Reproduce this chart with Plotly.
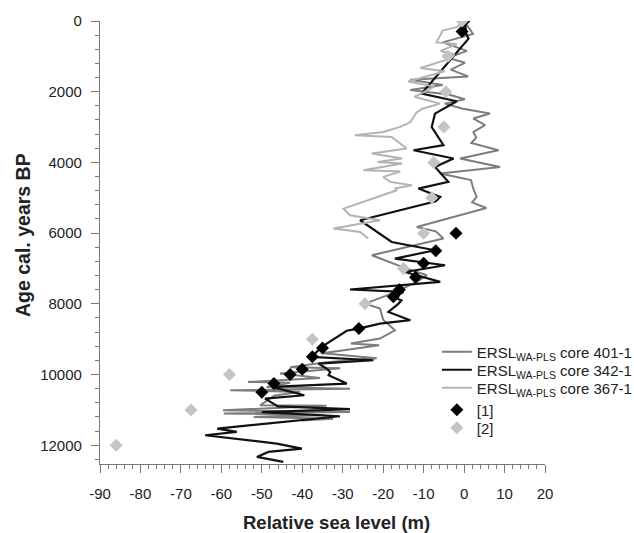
import plotly.graph_objects as go

# ---- data (age cal. years BP, relative sea level m) ----
core401_age = [0, 365, 605, 846, 1038, 1183, 1375, 1567, 1663, 1808, 1952, 2077, 2211, 2337, 2480,
               2617, 2758, 2948, 3137, 3300, 3450, 3655, 3890, 4127, 4314, 4500, 4750, 4975, 5130,
               5290, 5824, 5950, 6153, 6400, 6626, 7003, 7191, 7380, 7710, 7993, 8133, 8450, 8747,
               8982, 9120, 9170, 9400, 9540, 9650, 9790, 9822, 9970, 10100, 10210, 10230, 10350,
               10400, 10445, 10490, 10600, 10870, 10880, 11010, 11060, 11100, 11150, 11200, 11250, 11300]
core401_rsl = [0, 2.2, -5.3, 0.7, -4, 0.2, -3.3, 1, -13.3, -5.3, -13.3, -3.8, 0.2, -4.8, -0.3,
               6.4, 2.3, 5.2, 2.3, 3, 1.8, 8.5, -1, 8.9, -5.9, 1.7, 2.3, 3.1, 2,
               5.5, -11.7, -7, -5.1, -14, -22.8, -14.2, -9.2, -11.7, -17.9, -24.5, -20.8, -20, -17.1,
               -20.8, -28, -21, -35, -21.6, -34, -43, -30.6, -45.5, -35.6, -53.4, -43, -48.8,
               -28.2, -57.8, -40.5, -47, -50.4, -34, -59.6, -28.2, -59.4, -34.6, -52, -32.4, -40]

core342_age = [0, 350, 500, 2050, 2270, 2620, 3000, 3510, 3655, 3890, 4127, 4550, 4740, 4975, 5100,
               5635, 6250, 6484, 6720, 6908, 7100, 7380, 7595, 7663, 7805, 7900, 7993, 8229, 8463,
               8560, 8700, 8760, 9219, 9502, 9595, 9689, 9830, 9926, 10020, 10255, 10350, 10585,
               10680, 10900, 10980, 11060, 11180, 11528, 11622, 11716, 11952, 12093, 12188, 12330, 12471]
core342_rsl = [0.2, 0.5, 1.1, -10.5, -1.8, -7.2, -8, -5.1, -12.5, -2.6, -7.2, -3.9, -11.3, -5.9, -7,
               -25.7, -17.9, -7.2, -17.1, -4.7, -14.6, -5.9, -28.2, -15, -17.5, -15.5, -16.2, -18.7, -13.3,
               -20.8, -26.1, -29, -35.2, -37.7, -22.4, -36, -34, -33.1, -33.5, -29, -47.5, -39.5,
               -49.2, -46, -28.2, -50, -30.7, -61, -56.2, -64, -46.3, -40.1, -48.4, -51.2, -44.7]

core367_age = [0, 173, 270, 605, 654, 846, 942, 1115, 1327, 1423, 1711, 1856, 2144, 2240, 2337, 2480,
               2596, 2865, 2995, 3137, 3230, 3278, 3607, 3749, 3890, 3985, 4032, 4221, 4260, 4410,
               4551, 4645, 4740, 4786, 5305, 5494, 5635, 5871, 5965, 6153]
core367_rsl = [0, -1.8, -5.3, -6.8, -1.8, -5.8, -2.3, -4.8, -10.8, -4.8, -13.8, -7.3, -12.3, -8.8, -6, -10.3,
               -11.8, -13.3, -15.8, -20, -27, -17.9, -14.2, -22.8, -15.3, -21.4, -15.3, -24.9, -15.8, -20,
               -18.3, -12.9, -17.1, -16.6, -29.8, -28.2, -20.8, -32.3, -25.7, -23.7]

ref1_age = [0, 300, 6000, 6500, 6850, 7250, 7600, 7800, 8700, 9250, 9500, 9850, 10000, 10250, 10500]
ref1_rsl = [0, -0.5, -2, -7, -10, -12, -16, -17.5, -26, -35, -37.5, -40, -43, -47, -50]

ref2_age = [0, 1000, 2000, 3000, 4000, 5000, 6000, 7000, 8000, 9000, 10000, 11000, 12000]
ref2_rsl = [-0.5, -4, -4.5, -5, -7.5, -8, -10, -15, -24.5, -37.5, -58, -67.5, -86]

x_ticks = [-90, -80, -70, -60, -50, -40, -30, -20, -10, 0, 10, 20]
y_ticks = [0, 2000, 4000, 6000, 8000, 10000, 12000]

FONT = "Liberation Sans, Arial, sans-serif"

fig = go.Figure()
fig.add_trace(go.Scatter(x=core401_rsl, y=core401_age, mode="lines",
                         line=dict(color="#7d7d7d", width=2),
                         name="ERSL<sub>WA-PLS</sub> core 401-1", legend="legend"))
fig.add_trace(go.Scatter(x=core342_rsl, y=core342_age, mode="lines",
                         line=dict(color="#111111", width=2.2),
                         name="ERSL<sub>WA-PLS</sub> core 342-1", legend="legend2"))
fig.add_trace(go.Scatter(x=core367_rsl, y=core367_age, mode="lines",
                         line=dict(color="#b3b3b3", width=2),
                         name="ERSL<sub>WA-PLS</sub> core 367-1", legend="legend3"))
fig.add_trace(go.Scatter(x=ref1_rsl, y=ref1_age, mode="markers",
                         marker=dict(symbol="diamond", color="#000000", size=10),
                         name="[1]", legend="legend4"))
fig.add_trace(go.Scatter(x=ref2_rsl, y=ref2_age, mode="markers",
                         marker=dict(symbol="diamond", color="#c4c4c4", size=10),
                         name="[2]", legend="legend5"))


def leg(ypix):
    return dict(x=0.757, y=(464 - ypix) / 443, xanchor="left", yanchor="middle",
                bgcolor="rgba(0,0,0,0)", font=dict(size=15, color="#222222", family=FONT),
                itemwidth=30)


fig.update_layout(
    width=634, height=533, autosize=False,
    margin=dict(l=100, r=89, t=21, b=69, autoexpand=False),
    paper_bgcolor="white", plot_bgcolor="white",
    font=dict(family=FONT, size=15, color="#222222"),
    showlegend=True,
    legend=leg(352), legend2=leg(370), legend3=leg(388), legend4=leg(410), legend5=leg(428),
    xaxis=dict(range=[-90, 20], tickmode="array", tickvals=x_ticks,
               ticktext=[str(v) for v in x_ticks],
               showgrid=False, zeroline=False, showline=True, linecolor="#777777", linewidth=1.2,
               ticks="outside", ticklen=8, tickcolor="#777777", tickwidth=1,
               ticklabelstandoff=8,
               minor=dict(dtick=2, ticks="outside", ticklen=4, tickcolor="#777777", showgrid=False),
               tickfont=dict(size=15, color="#222222")),
    yaxis=dict(range=[12530, 0], tickmode="array", tickvals=y_ticks,
               ticktext=[str(v) for v in y_ticks],
               showgrid=False, zeroline=False, showline=True, linecolor="#777777", linewidth=1.2,
               ticks="outside", ticklen=8, tickcolor="#777777", tickwidth=1,
               ticklabelstandoff=6,
               minor=dict(dtick=400, ticks="outside", ticklen=4, tickcolor="#777777", showgrid=False),
               tickfont=dict(size=15, color="#222222")),
    annotations=[
        dict(text="<b>Relative sea level (m)</b>", xref="paper", yref="paper",
             x=(336 - 100) / 445, y=-(522 - 464) / 443, xanchor="center", yanchor="middle",
             showarrow=False, font=dict(size=18.5, color="#222222", family=FONT)),
        dict(text="<b>Age cal. years BP</b>", xref="paper", yref="paper",
             x=-(100 - 23) / 445, y=(464 - 235) / 443, xanchor="center", yanchor="middle",
             textangle=-90, showarrow=False, font=dict(size=19.5, color="#222222", family=FONT)),
    ],
)

post = ("document.documentElement.style.margin='0';document.body.style.margin='0';"
        "document.body.style.overflow='hidden';")

fig.write_html("out.html", config={"responsive": False, "displayModeBar": False}, post_script=post)
